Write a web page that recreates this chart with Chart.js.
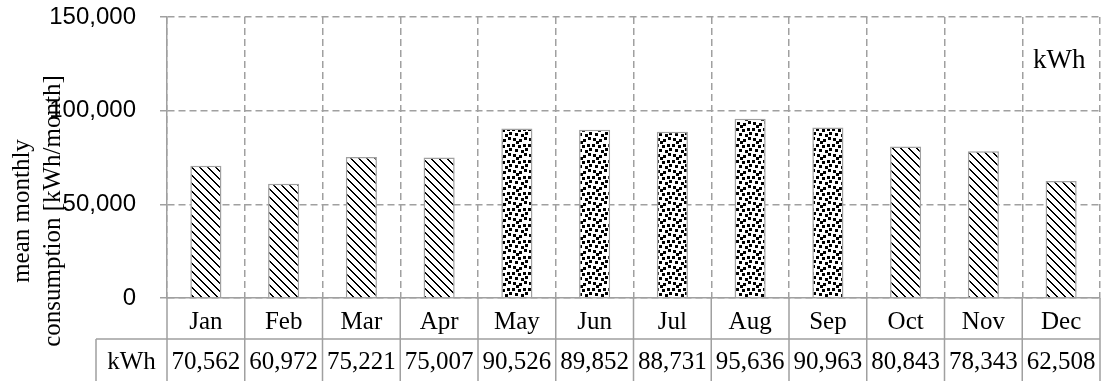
<!DOCTYPE html>
<html>
<head>
<meta charset="utf-8">
<script src="https://cdn.jsdelivr.net/npm/chart.js@4"></script>
<style>
    body { margin: 0; background: #fff; }
    #wrap { width: 1102px; height: 381px; }
</style>
</head>
<body>
<div id="wrap"><canvas id="chartMonthly" width="1102" height="381"></canvas></div>
<script>
// Chart data
const months = ['Jan', 'Feb', 'Mar', 'Apr', 'May', 'Jun', 'Jul', 'Aug', 'Sep', 'Oct', 'Nov', 'Dec'];
const consumption = [70562, 60972, 75221, 75007, 90526, 89852, 88731, 95636, 90963, 80843, 78343, 62508];
const confettiMonths = ['May', 'Jun', 'Jul', 'Aug', 'Sep'];
const yTicks = [0, 50000, 100000, 150000];
const seriesLabel = 'kWh';
const axisTitle = ['mean monthly', 'consumption [kWh/month]'];

const gridGray = '#a0a0a0';
const serif = '"Liberation Serif", "Times New Roman", serif';
const sans = '"Liberation Sans", Arial, sans-serif';

// Wide downward diagonal pattern
const makeStripes = () => {
    const c = document.createElement('canvas');
    c.width = 8;
    c.height = 8;
    const g = c.getContext('2d');
    g.fillStyle = '#fff';
    g.fillRect(0, 0, 8, 8);
    g.fillStyle = '#000';
    for (let i = 0; i < 8; i++) {
        g.fillRect(i, i, 1, 1);
        g.fillRect((i + 1) % 8, i, 1, 1);
    }
    return g.createPattern(c, 'repeat');
};

// Large confetti pattern
const makeConfetti = () => {
    const c = document.createElement('canvas');
    c.width = 16;
    c.height = 16;
    const g = c.getContext('2d');
    g.fillStyle = '#fff';
    g.fillRect(0, 0, 16, 16);
    g.fillStyle = '#000';
    [[0, 0], [6, 1], [11, 0], [3, 5], [9, 6], [13, 4], [1, 10], [7, 11], [12, 9], [4, 13]].forEach(([px, py]) => {
        g.fillRect(px, py, 3, 3);
    });
    return g.createPattern(c, 'repeat');
};

const stripes = makeStripes();
const confetti = makeConfetti();
const fmt = v => v.toLocaleString('en-US');

// Data table under the plot, axis title and legend text
const extras = {
    id: 'extras',
    afterDraw(chart) {
        const { ctx, chartArea, scales: { x } } = chart;
        const step = x.getPixelForValue(1) - x.getPixelForValue(0);
        const top = chartArea.bottom;
        const mid = top + 41;
        const bottom = chart.height;
        const tableLeft = 96;

        ctx.save();
        ctx.strokeStyle = gridGray;
        ctx.lineWidth = 1.5;
        ctx.beginPath();
        for (let i = 0; i <= months.length; i++) {
            const bx = i < months.length ? x.getPixelForValue(i) - step / 2 : x.getPixelForValue(i - 1) + step / 2;
            ctx.moveTo(bx, top);
            ctx.lineTo(bx, bottom);
        }
        ctx.moveTo(tableLeft, mid);
        ctx.lineTo(chartArea.right, mid);
        ctx.moveTo(tableLeft, mid);
        ctx.lineTo(tableLeft, bottom);
        ctx.stroke();

        ctx.fillStyle = '#000';
        ctx.font = '25px ' + serif;
        ctx.textAlign = 'center';
        ctx.textBaseline = 'middle';
        months.forEach((m, i) => {
            const cx = x.getPixelForValue(i);
            ctx.fillText(m, cx, top + 24);
            ctx.fillText(fmt(consumption[i]), cx, mid + 23);
        });
        ctx.fillText(seriesLabel, (tableLeft + chartArea.left) / 2, mid + 23);

        // legend
        ctx.font = '27px ' + serif;
        ctx.textAlign = 'left';
        ctx.fillText(seriesLabel, 1033, 61);

        // y axis title
        ctx.font = '25px ' + serif;
        ctx.textAlign = 'center';
        [22, 53].forEach((tx, i) => {
            ctx.save();
            ctx.translate(tx, 211);
            ctx.rotate(-Math.PI / 2);
            ctx.fillText(axisTitle[i], 0, 0);
            ctx.restore();
        });
        ctx.restore();
    }
};

new Chart(document.getElementById('chartMonthly'), {
    type: 'bar',
    data: {
        labels: months,
        datasets: [{
            label: seriesLabel,
            data: consumption,
            backgroundColor: months.map(m => confettiMonths.includes(m) ? confetti : stripes),
            borderColor: gridGray,
            borderWidth: 1.5,
            barPercentage: 0.4,
            categoryPercentage: 1
        }]
    },
    options: {
        responsive: false,
        animation: false,
        layout: {
            padding: { top: 17, right: 2, bottom: 83, left: 0 }
        },
        plugins: {
            legend: { display: false },
            tooltip: { enabled: false }
        },
        scales: {
            x: {
                offset: true,
                ticks: { display: false },
                grid: {
                    color: gridGray,
                    lineWidth: 1.5,
                    offset: true,
                    drawTicks: false
                },
                border: { color: gridGray, width: 1.5, dash: [7, 4] },
                afterFit: scale => { scale.height = 0; }
            },
            y: {
                min: yTicks[0],
                max: yTicks[yTicks.length - 1],
                ticks: {
                    stepSize: yTicks[1] - yTicks[0],
                    padding: 24,
                    color: '#000',
                    font: { family: sans, size: 24 },
                    callback: v => fmt(v)
                },
                grid: {
                    color: gridGray,
                    lineWidth: 1.5,
                    tickLength: 7,
                    tickColor: gridGray
                },
                border: { color: gridGray, width: 1.5, dash: [7, 4] },
                afterFit: scale => {
                    scale.width = 167;
                    scale.paddingTop = 0;
                    scale.paddingBottom = 0;
                }
            }
        }
    },
    plugins: [extras]
});
</script>
</body>
</html>
